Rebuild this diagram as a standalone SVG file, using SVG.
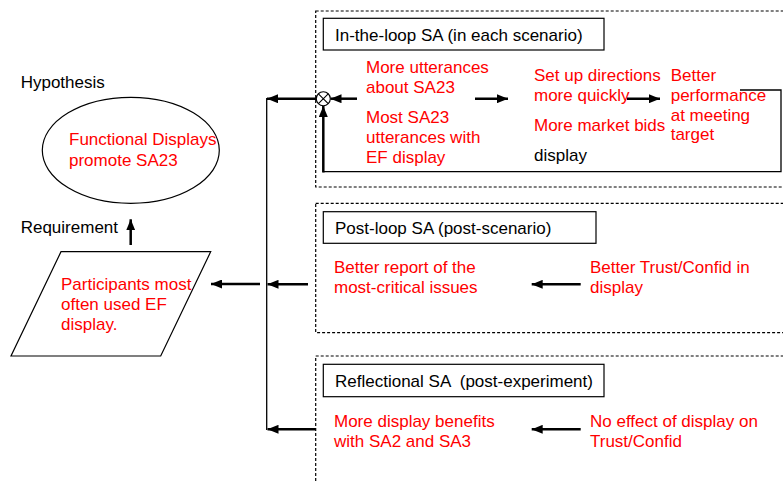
<svg xmlns="http://www.w3.org/2000/svg" width="783" height="482" viewBox="0 0 783 482">
<defs>
<style>
text{font-family:"Liberation Sans",Arial,sans-serif;font-size:17px}
.r{fill:#ff0000}
.k{fill:#000}
.dash{fill:none;stroke:#000;stroke-width:1.2;stroke-dasharray:3 2}
.box{fill:#fff;stroke:#000;stroke-width:1.2}
.thick{fill:none;stroke:#000;stroke-width:2.5}
.thin{fill:none;stroke:#000;stroke-width:1.3}
.arr{marker-end:url(#ah)}
</style>
<marker id="ah" markerUnits="userSpaceOnUse" markerWidth="11" markerHeight="9" refX="11" refY="4.5" orient="auto">
<path d="M0,0 L11,4.5 L0,9 z" fill="#000"/>
</marker>
</defs>
<rect width="783" height="482" fill="#fff"/>

<g id="hypothesis">
<text x="20.7" y="88.3" class="k">Hypothesis</text>
<ellipse cx="130.8" cy="150.3" rx="88.5" ry="53" fill="#fff" stroke="#000" stroke-width="1.2"/>
<text x="69" y="145" class="r">Functional Displays</text>
<text x="69" y="166" class="r">promote SA23</text>
</g>

<g id="requirement">
<text x="20.7" y="233.3" class="k">Requirement</text>
<polygon points="61,251.7 210.7,251.7 160.7,356 11,356" fill="#fff" stroke="#000" stroke-width="1.2"/>
<text x="61" y="290" class="r">Participants most</text>
<text x="61" y="310" class="r">often used EF</text>
<text x="61" y="330" class="r">display.</text>
</g>

<g id="inloop">
<rect x="315.7" y="11" width="470" height="176" class="dash"/>
<rect x="323.3" y="18.3" width="280.7" height="31.7" class="box"/>
<text x="335" y="40.7" class="k">In-the-loop SA (in each scenario)</text>
<text x="366" y="72.7" class="r">More utterances</text>
<text x="366" y="92.7" class="r">about SA23</text>
<text x="366" y="123.3" class="r">Most SA23</text>
<text x="366" y="143.3" class="r">utterances with</text>
<text x="366" y="163.3" class="r">EF display</text>
<text x="534" y="81" class="r">Set up directions</text>
<text x="534" y="100.5" class="r">more quickly</text>
<text x="534" y="131" class="r">More market bids</text>
<text x="534" y="160.5" class="k">display</text>
<text x="670.7" y="81" class="r">Better</text>
<text x="670.7" y="100.5" class="r">performance</text>
<text x="670.7" y="120.5" class="r">at meeting</text>
<text x="670.7" y="140" class="r">target</text>
</g>

<g id="sum">
<circle cx="323.3" cy="98.7" r="7" fill="#fff" stroke="#000" stroke-width="1.1"/>
<path d="M318.4,93.8 L328.2,103.6 M328.2,93.8 L318.4,103.6" stroke="#000" stroke-width="1.1"/>
</g>

<g id="postloop">
<rect x="315.7" y="203.3" width="470" height="129.4" class="dash"/>
<rect x="323.3" y="211.7" width="272.7" height="31.6" class="box"/>
<text x="335" y="234.3" class="k">Post-loop SA (post-scenario)</text>
<text x="334" y="273.3" class="r">Better report of the</text>
<text x="334" y="293.3" class="r">most-critical issues</text>
<text x="590" y="273.3" class="r">Better Trust/Confid in</text>
<text x="590" y="293.3" class="r">display</text>
</g>

<g id="reflectional">
<rect x="315.7" y="356" width="470" height="140" class="dash"/>
<rect x="323.3" y="364.3" width="280.7" height="32.4" class="box"/>
<text x="335" y="387.3" class="k" xml:space="preserve">Reflectional SA  (post-experiment)</text>
<text x="334" y="426.7" class="r">More display benefits</text>
<text x="334" y="446.7" class="r">with SA2 and SA3</text>
<text x="590" y="426.7" class="r">No effect of display on</text>
<text x="590" y="446.7" class="r">Trust/Confid</text>
</g>

<g id="connectors">
<line x1="316.3" y1="98.7" x2="267" y2="98.7" class="thick arr"/>
<line x1="357" y1="98.7" x2="330.5" y2="98.7" class="thick arr"/>
<line x1="475" y1="98.7" x2="508" y2="98.7" class="thick arr"/>
<line x1="627" y1="98.7" x2="660" y2="98.7" class="thick arr"/>
<polyline points="740,90 781,90 781,171.7 323.3,171.7" class="thin"/>
<line x1="323.3" y1="172.5" x2="323.3" y2="106" class="thick arr"/>
<line x1="130.7" y1="245" x2="130.7" y2="219.3" class="thick arr"/>
<line x1="266.7" y1="98" x2="266.7" y2="430" class="thin"/>
<line x1="260" y1="284" x2="211" y2="284" class="thick arr"/>
<line x1="308" y1="284.3" x2="267.5" y2="284.3" class="thick arr"/>
<line x1="580.7" y1="284.3" x2="531.7" y2="284.3" class="thick arr"/>
<line x1="580.7" y1="429.3" x2="531.7" y2="429.3" class="thick arr"/>
<line x1="316" y1="429.3" x2="267.5" y2="429.3" class="thick arr"/>
</g>
</svg>
